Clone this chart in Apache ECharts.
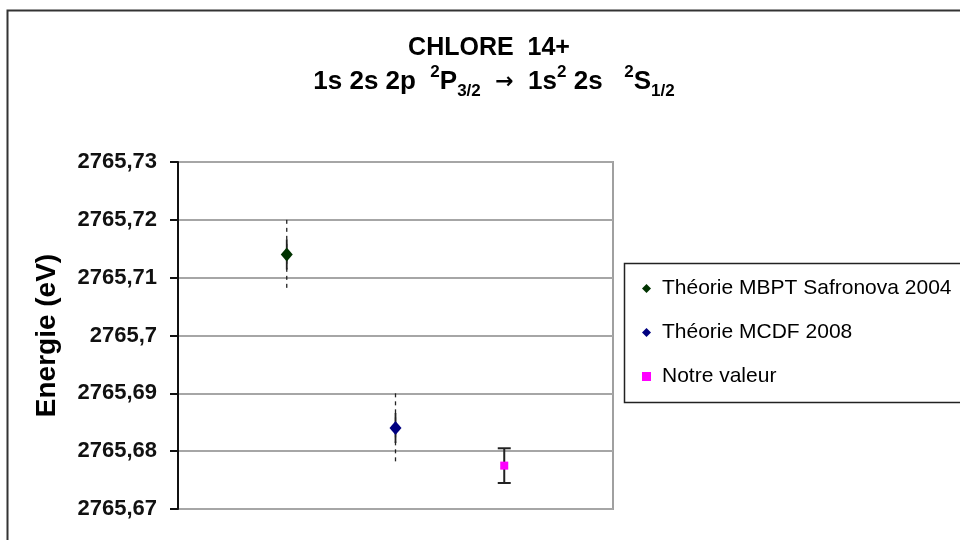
<!DOCTYPE html>
<html>
<head>
<meta charset="utf-8">
<script src="https://cdn.jsdelivr.net/npm/echarts@6/dist/echarts.min.js"></script>
<style>
  html, body { margin: 0; padding: 0; background: #fff; }
  #chart { width: 960px; height: 540px; }
</style>
</head>
<body>
<div id="chart"></div>
<script>
// Transition energy of Cl14+ : theory vs. measurement
const seriesNames = ['Théorie MBPT Safronova 2004', 'Théorie MCDF 2008', 'Notre valeur'];
const positions = [1, 2, 3];
const energies = [2765.714, 2765.684, 2765.6775];
// theory: inner (solid) and outer (dashed) uncertainty
const innerErr = [0.0026, 0.0026];
const outerErr = [0.006, 0.006];
// measurement uncertainty (capped bar)
const measErr = [0.003];
const colors = ['#003300', '#000080', '#ff00ff'];
const yMin = 2765.67, yMax = 2765.73, yStep = 0.01;

const FONT = 'Liberation Sans';

const chart = echarts.init(document.getElementById('chart'), null, { renderer: 'canvas' });

function fmt(v) {
  return String(+v.toFixed(2)).replace('.', ',');
}

const theoryBars = [0, 1].map(i => [positions[i], energies[i], innerErr[i], outerErr[i]]);
const measBars = [[positions[2], energies[2], measErr[0]]];

chart.setOption({
  animation: false,
  backgroundColor: '#fff',
  textStyle: { fontFamily: FONT },
  title: [
    {
      text: 'CHLORE  14+',
      left: 484, top: 31, textAlign: 'center',
      textStyle: { fontFamily: FONT, fontSize: 25, fontWeight: 'bold', color: '#000' }
    },
    {
      text: '1s 2s 2p  {sup|2}P{sub|3/2}  {arr|\u2192}  1s{sup|2} 2s   {sup|2}S{sub|1/2}',
      left: 489, top: 59, textAlign: 'center',
      textStyle: {
        fontFamily: FONT, fontSize: 26, fontWeight: 'bold', color: '#000', lineHeight: 36,
        rich: {
          sup: { fontFamily: FONT, fontSize: 17, fontWeight: 'bold', color: '#000', lineHeight: 18, verticalAlign: 'top' },
          sub: { fontFamily: FONT, fontSize: 17, fontWeight: 'bold', color: '#000', lineHeight: 18, verticalAlign: 'bottom' },
          arr: { fontFamily: 'DejaVu Sans', fontSize: 22, fontWeight: 'bold', color: '#000', lineHeight: 36 }
        }
      }
    }
  ],
  graphic: [
    {
      type: 'rect', silent: true, z: -1,
      shape: { x: 7.5, y: 10.5, width: 1100, height: 700 },
      style: { fill: 'none', stroke: '#333', lineWidth: 2 }
    },
    {
      type: 'rect', silent: true,
      shape: { x: 624.5, y: 263.5, width: 400, height: 139 },
      style: { fill: '#fff', stroke: '#222', lineWidth: 1.5 }
    }
  ],
  legend: {
    orient: 'vertical',
    left: 637, top: 273,
    itemWidth: 9, itemHeight: 9, itemGap: 23,
    data: seriesNames,
    textStyle: { fontFamily: FONT, fontSize: 21, color: '#000', padding: [0, 0, 0, 6] },
    z: 10
  },
  grid: {
    left: 178, right: 347, top: 162, bottom: 31,
    show: true, borderColor: '#a0a0a0', borderWidth: 2, backgroundColor: '#fff'
  },
  xAxis: {
    type: 'value', min: 0, max: 4,
    show: false, splitLine: { show: false }
  },
  yAxis: {
    type: 'value', min: yMin, max: yMax, interval: yStep,
    name: 'Energie (eV)', nameLocation: 'middle', nameGap: 117,
    nameTextStyle: { fontFamily: FONT, fontSize: 28, fontWeight: 'bold', color: '#000' },
    axisLine: { show: true, lineStyle: { color: '#111', width: 2 } },
    axisTick: { show: true, inside: false, length: 8, lineStyle: { color: '#111', width: 2 } },
    axisLabel: {
      formatter: fmt, margin: 21,
      fontFamily: FONT, fontSize: 22, fontWeight: 'bold', color: '#111'
    },
    splitLine: { show: true, lineStyle: { color: '#a6a6a6', width: 2 } }
  },
  series: [
    {
      type: 'custom', name: 'theoryErr', z: 2, silent: true,
      data: theoryBars,
      renderItem: function (params, api) {
        const x = api.value(0), y = api.value(1), e1 = api.value(2), e2 = api.value(3);
        const oT = api.coord([x, y + e2]), oB = api.coord([x, y - e2]);
        const iT = api.coord([x, y + e1]), iB = api.coord([x, y - e1]);
        return {
          type: 'group',
          children: [
            { type: 'line', shape: { x1: oT[0], y1: oT[1], x2: oB[0], y2: oB[1] },
              style: { stroke: '#222', lineWidth: 1.3, lineDash: [4, 4] } },
            { type: 'line', shape: { x1: iT[0], y1: iT[1], x2: iB[0], y2: iB[1] },
              style: { stroke: '#222', lineWidth: 1.8 } }
          ]
        };
      }
    },
    {
      type: 'custom', name: 'measErr', z: 2, silent: true,
      data: measBars,
      renderItem: function (params, api) {
        const x = api.value(0), y = api.value(1), e = api.value(2);
        const t = api.coord([x, y + e]), b = api.coord([x, y - e]);
        const hw = 6.5;
        return {
          type: 'group',
          children: [
            { type: 'line', shape: { x1: t[0], y1: t[1], x2: b[0], y2: b[1] }, style: { stroke: '#222', lineWidth: 2 } },
            { type: 'line', shape: { x1: t[0] - hw, y1: t[1], x2: t[0] + hw, y2: t[1] }, style: { stroke: '#222', lineWidth: 2 } },
            { type: 'line', shape: { x1: b[0] - hw, y1: b[1], x2: b[0] + hw, y2: b[1] }, style: { stroke: '#222', lineWidth: 2 } }
          ]
        };
      }
    },
    {
      type: 'scatter', name: seriesNames[0], z: 5,
      symbol: 'diamond', symbolSize: [12, 14],
      itemStyle: { color: colors[0], opacity: 1 },
      data: [[positions[0], energies[0]]]
    },
    {
      type: 'scatter', name: seriesNames[1], z: 5,
      symbol: 'diamond', symbolSize: [12, 14],
      itemStyle: { color: colors[1], opacity: 1 },
      data: [[positions[1], energies[1]]]
    },
    {
      type: 'scatter', name: seriesNames[2], z: 5,
      symbol: 'rect', symbolSize: 8,
      itemStyle: { color: colors[2], opacity: 1 },
      data: [[positions[2], energies[2]]]
    }
  ]
});
</script>
</body>
</html>
